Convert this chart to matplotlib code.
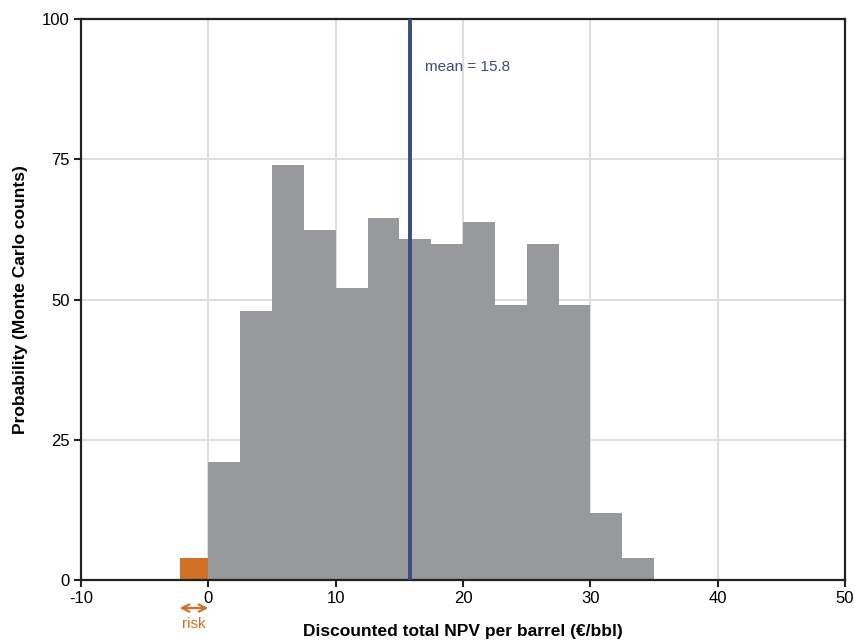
import matplotlib.pyplot as plt

# ---- data ----
bin_left = [0, 2.5, 5, 7.5, 10, 12.5, 15, 17.5, 20, 22.5, 25, 27.5, 30, 32.5]
bin_width = 2.5
counts = [21.0, 48.0, 74.0, 62.3, 52.0, 64.6, 60.7, 59.9, 63.8, 49.0, 59.9, 49.0, 11.9, 4.0]

risk_left = -2.25
risk_right = 0.0
risk_count = 4.0

mean_value = 15.8

x_ticks = [-10, 0, 10, 20, 30, 40, 50]
y_ticks = [0, 25, 50, 75, 100]

GRAY = '#98999d'
ORANGE = '#d07126'
NAVY = '#3c4a7e'

plt.rcParams['font.family'] = ['Liberation Sans', 'DejaVu Sans']
plt.rcParams['axes.unicode_minus'] = False

fig = plt.figure(figsize=(8.55, 6.42), dpi=100)
ax = fig.add_axes([81 / 855, 1 - 580 / 642, (845 - 81) / 855, (580 - 19) / 642])

# histogram bars
ax.bar(bin_left, counts, width=bin_width, align='edge', color=GRAY,
       edgecolor='none', zorder=2)
ax.bar([risk_left], [risk_count], width=risk_right - risk_left, align='edge',
       color=ORANGE, edgecolor='none', zorder=2)

# mean line
ax.axvline(mean_value, color=NAVY, lw=2.8, zorder=3)
ax.text(mean_value + 1.2, 91.5, f'mean = {mean_value}', color=NAVY,
        fontsize=11, ha='left', va='center')

ax.set_xlim(-10, 50)
ax.set_ylim(0, 100)
ax.set_xticks(x_ticks)
ax.set_yticks(y_ticks)
ax.tick_params(direction='out', length=5, width=1.5, labelsize=12,
               color='#222222', pad=3)

ax.grid(True, color='#dedede', lw=1.4, zorder=0)
ax.set_axisbelow(True)
for s in ax.spines.values():
    s.set_linewidth(1.6)
    s.set_color('#222222')

ax.set_xlabel('Discounted total NPV per barrel (€/bbl)', fontsize=12.5,
              weight='bold', labelpad=13)
ax.set_ylabel('Probability (Monte Carlo counts)', fontsize=12.5,
              weight='bold', labelpad=10)

# risk annotation below the axis
ax.annotate('', xy=(risk_left, -5.0), xytext=(risk_right, -5.0),
            xycoords='data', annotation_clip=False,
            arrowprops=dict(arrowstyle='<->', color=ORANGE, lw=1.6,
                            shrinkA=0, shrinkB=0, mutation_scale=13))
ax.text((risk_left + risk_right) / 2, -7.8, 'risk', color=ORANGE,
        fontsize=11, ha='center', va='center', clip_on=False)

fig.savefig('out.png', dpi=100)
